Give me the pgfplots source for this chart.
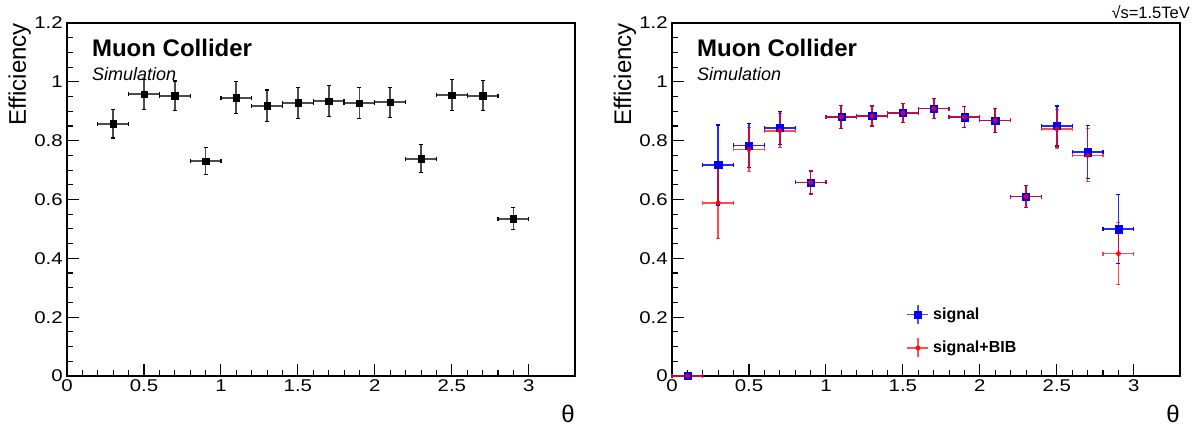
\documentclass[border=0pt]{standalone}
\usepackage{fontspec}
\setmainfont{Liberation Sans}
\usepackage{pgfplots}
\pgfplotsset{compat=1.18}
\usepackage{pgfplotstable}

\pgfplotstableread{
x ex y ey
0.3 0.1 0.858 0.049
0.5 0.1 0.958 0.051
0.7 0.1 0.953 0.050
0.9 0.1 0.731 0.047
1.1 0.1 0.946 0.055
1.3 0.1 0.919 0.053
1.5 0.1 0.929 0.053
1.7 0.1 0.935 0.052
1.9 0.1 0.928 0.053
2.1 0.1 0.931 0.051
2.3 0.1 0.739 0.047
2.5 0.1 0.955 0.052
2.7 0.1 0.953 0.051
2.9 0.1 0.535 0.038
}\lefttab

\pgfplotstableread{
x ex ys eys yb eyb
0.1 0.1 0.000 0.000 0.000 0.000
0.3 0.1 0.717 0.136 0.589 0.122
0.5 0.1 0.784 0.075 0.770 0.074
0.7 0.1 0.843 0.056 0.834 0.058
0.9 0.1 0.658 0.039 0.658 0.039
1.1 0.1 0.881 0.039 0.881 0.039
1.3 0.1 0.884 0.034 0.884 0.034
1.5 0.1 0.894 0.033 0.894 0.033
1.7 0.1 0.909 0.034 0.909 0.034
1.9 0.1 0.880 0.035 0.880 0.035
2.1 0.1 0.869 0.040 0.869 0.040
2.3 0.1 0.610 0.038 0.610 0.038
2.5 0.1 0.850 0.068 0.840 0.065
2.7 0.1 0.761 0.090 0.750 0.090
2.9 0.1 0.499 0.117 0.416 0.106
}\righttab

\pgfplotsset{
  rootstyle/.style={
    width=508pt, height=353pt, scale only axis,
    anchor=south west,
    xmin=0, xmax=3.3, ymin=0, ymax=1.2,
    xtick={0,0.5,1,1.5,2,2.5,3},
    ytick={0,0.2,0.4,0.6,0.8,1,1.2},
    minor x tick num=4, minor y tick num=3,
    tick pos=left, tick align=inside,
    major tick length=12pt, minor tick length=6pt,
    axis line style={line width=1.4pt},
    every tick/.style={black, line width=1.1pt},
    ticklabel style={font=\fontsize{17}{17}\selectfont, xscale=1.2},
    /pgf/number format/assume math mode=true,
    yticklabel style={/pgf/number format/fixed, /pgf/number format/precision=1},
    xticklabel style={/pgf/number format/fixed},
    clip=false,
    xlabel={θ}, ylabel={Efficiency},
    every axis y label/.style={at={([xshift=-41pt]rel axis cs:0,1)}, rotate=90, anchor=base east, inner sep=0pt, font=\fontsize{24}{24}\selectfont},
    every axis x label/.style={at={([yshift=-47pt]rel axis cs:1,0)}, anchor=base east, inner sep=0pt, font=\fontsize{24}{24}\selectfont},
  }
}

\begin{document}
\begin{tikzpicture}
\useasboundingbox (0,0) rectangle (1195pt,428pt);

\begin{axis}[rootstyle, at={(67pt,52pt)}]
\addplot[black, only marks, mark=square*, mark size=3.2pt,
  error bars/.cd, x dir=both, x explicit, y dir=both, y explicit,
  error bar style={line width=1.8pt, black!70},
  error mark options={rotate=90, black, mark size=2pt, line width=1.2pt}]
  table[x=x, y=y, x error=ex, y error=ey]{\lefttab};
\node[anchor=base west, inner sep=0pt, font=\fontsize{24}{24}\selectfont\bfseries] at (rel axis cs:0.049,0.9045) {Muon Collider};
\node[anchor=base west, inner sep=0pt, font=\fontsize{18}{18}\selectfont\itshape] at (rel axis cs:0.049,0.8385) {Simulation};
\end{axis}

\begin{axis}[rootstyle, at={(672pt,52pt)},
  legend style={at={(rel axis cs:0.4616,0.204)}, anchor=north west, draw=none, fill=none, inner sep=0pt,
    row sep=13pt, column sep=2pt, font=\fontsize{16}{16}\selectfont\bfseries},
  legend cell align=left]
\addplot[blue, only marks, mark=square*, mark size=3.6pt,
  legend image code/.code={
    \draw[blue!70, line width=1.5pt] (0pt,-9.5pt)--(0pt,9.5pt) (-10.5pt,0pt)--(10.5pt,0pt);
    \fill[blue] (-3.6pt,-3.6pt) rectangle (3.6pt,3.6pt);},
  error bars/.cd, x dir=both, x explicit, y dir=both, y explicit,
  error bar style={line width=1.7pt, blue!85},
  error mark options={rotate=90, blue, mark size=2pt, line width=1.2pt}]
  table[x=x, y=ys, x error=ex, y error=eys]{\righttab};
\addlegendentry{signal}
\addplot[red, only marks, mark=*, mark size=2.2pt, opacity=0.85,
  legend image code/.code={
    \draw[red!80, line width=1.5pt] (0pt,-9.5pt)--(0pt,9.5pt) (-10.5pt,0pt)--(10.5pt,0pt);
    \fill[red] (0pt,0pt) circle (2.2pt);},
  error bars/.cd, x dir=both, x explicit, y dir=both, y explicit,
  error bar style={line width=1.7pt, red, opacity=0.7},
  error mark options={rotate=90, red, mark size=2pt, line width=1.2pt}]
  table[x=x, y=yb, x error=ex, y error=eyb]{\righttab};
\addlegendentry{signal+BIB}
\node[anchor=base west, inner sep=0pt, font=\fontsize{24}{24}\selectfont\bfseries] at (rel axis cs:0.049,0.9045) {Muon Collider};
\node[anchor=base west, inner sep=0pt, font=\fontsize{18}{18}\selectfont\itshape] at (rel axis cs:0.049,0.8385) {Simulation};
\node[anchor=base east, inner sep=0pt, font=\fontsize{16.5}{16.5}\selectfont] at (rel axis cs:1.0197,1.0133) {√s=1.5TeV};
\end{axis}
\end{tikzpicture}
\end{document}
